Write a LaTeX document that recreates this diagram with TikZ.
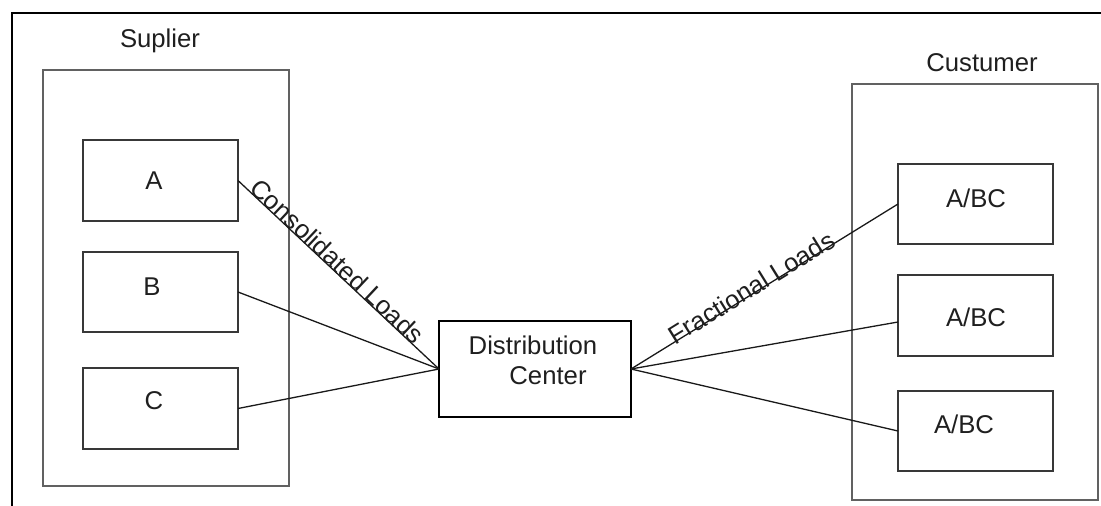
\documentclass[tikz,border=0pt]{standalone}
\usepackage{fontspec}
\setmainfont{Liberation Sans}
\begin{document}
\begin{tikzpicture}[x=1pt,y=-1pt,
  outerbox/.style={draw=black!62,line width=1.6pt,inner sep=0pt,outer sep=0pt},
  itembox/.style={draw=black!78,line width=1.6pt,inner sep=0pt,outer sep=0pt,minimum width=155pt},
  dcbox/.style={draw=black,line width=1.5pt,inner sep=0pt,outer sep=0pt,minimum width=192pt,minimum height=96pt},
  lbl/.style={text=black!88,inner sep=0pt,font=\fontsize{25.7pt}{30pt}\selectfont},
  conn/.style={draw=black!90,line width=1.3pt},
  frameline/.style={draw=black,line width=2.2pt}]
\useasboundingbox (0,0) rectangle (1101,506);
% frame
\coordinate (f1) at (12,506);
\coordinate (f2) at (12,13);
\coordinate (f3) at (1101,13);
\draw[frameline] (f1) -- (f2) -- (f3);
% supplier
\node[outerbox,minimum width=246pt,minimum height=416pt] (sup) at (166,278) {};
\node[lbl,anchor=base] (supt) at (160,47) {Suplier};
\node[itembox,minimum height=81pt] (A) at (160.5,180.5) {};
\node[itembox,minimum height=80pt] (B) at (160.5,292) {};
\node[itembox,minimum height=81pt] (C) at (160.5,408.5) {};
\node[lbl,anchor=base] (tA) at (154,189) {A};
\node[lbl,anchor=base] (tB) at (152,295) {B};
\node[lbl,anchor=base] (tC) at (154,409) {C};
% distribution center
\node[dcbox] (DC) at (535,369) {};
\node[lbl,anchor=base] (tD1) at (533,354) {Distribution};
\node[lbl,anchor=base] (tD2) at (548,384) {Center};
% customer
\node[outerbox,minimum width=246pt,minimum height=416pt] (cus) at (975,292) {};
\node[lbl,anchor=base] (cust) at (982,71) {Custumer};
\node[itembox,minimum height=80pt] (c1) at (975.5,204) {};
\node[itembox,minimum height=81pt] (c2) at (975.5,315.5) {};
\node[itembox,minimum height=80pt] (c3) at (975.5,431) {};
\node[lbl,anchor=base] (t1) at (976,207) {A/BC};
\node[lbl,anchor=base] (t2) at (976,326) {A/BC};
\node[lbl,anchor=base] (t3) at (964,433) {A/BC};
% connectors
\draw[conn] (A.east) -- node[lbl,sloped,pos=0.464,anchor=base] (cl) {Consolidated Loads} (DC.west);
\draw[conn] (B.east) -- (DC.west);
\draw[conn] (C.east) -- (DC.west);
\draw[conn] (DC.east) -- node[lbl,sloped,pos=0.463,anchor=base] (fl) {\raisebox{-3pt}{Fractional Loads}} (c1.west);
\draw[conn] (DC.east) -- ([yshift=-6.5pt]c2.west);
\draw[conn] (DC.east) -- (c3.west);
\end{tikzpicture}
\end{document}
